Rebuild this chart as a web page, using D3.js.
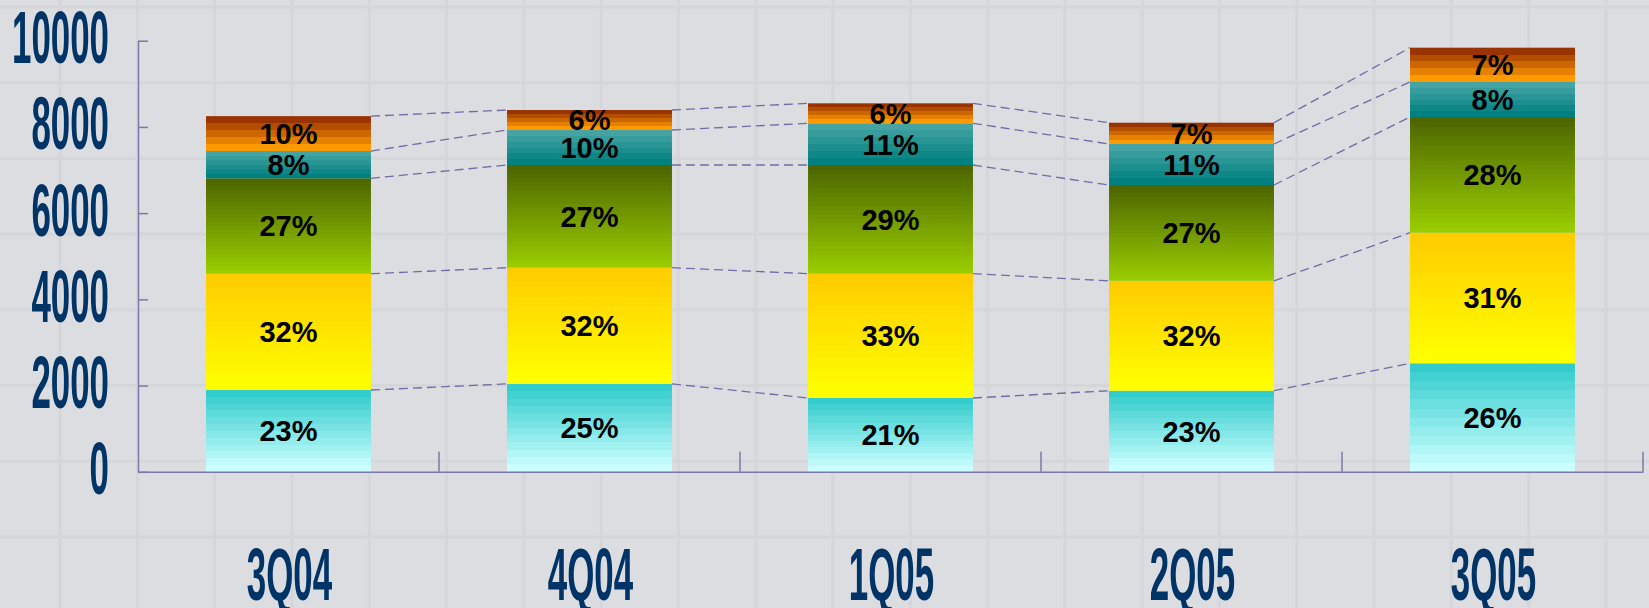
<!DOCTYPE html>
<html>
<head>
<meta charset="utf-8">
<script src="https://cdn.jsdelivr.net/npm/d3@7"></script>
<style>
  html, body { margin: 0; padding: 0; background: #dcdde0; }
  svg { display: block; }
</style>
</head>
<body>
<svg width="1649" height="608"></svg>
<script>
// the data - one array per stacked series, bottom to top
var quarters = ['3Q04', '4Q04', '1Q05', '2Q05', '3Q05'];
var seriesA = [1897, 2039, 1712, 1881, 2517];
var seriesB = [2698, 2695, 2884, 2549, 3029];
var seriesC = [2213, 2383, 2521, 2223, 2684];
var seriesD = [633, 811, 967, 951, 812];
var seriesE = [809, 464, 464, 494, 796];
// share labels as printed on the chart
var pctA = ['23%', '25%', '21%', '23%', '26%'];
var pctB = ['32%', '32%', '33%', '32%', '31%'];
var pctC = ['27%', '27%', '29%', '27%', '28%'];
var pctD = ['8%', '10%', '11%', '11%', '8%'];
var pctE = ['10%', '6%', '6%', '7%', '7%'];
var yTicks = [0, 2000, 4000, 6000, 8000, 10000];

var keys = ['a', 'b', 'c', 'd', 'e'];
var labels = { a: pctA, b: pctB, c: pctC, d: pctD, e: pctE };
// gradient per series: top colour, bottom colour, number of bands
var fills = {
  a: ['#33cccc', '#ccffff', 12],
  b: ['#ffcc00', '#ffff00', 24],
  c: ['#4d6600', '#99cc00', 24],
  d: ['#45a3a3', '#008080', 6],
  e: ['#993300', '#ff9900', 5]
};

var table = quarters.map(function (q, i) {
  return { q: q, i: i, a: seriesA[i], b: seriesB[i], c: seriesC[i], d: seriesD[i], e: seriesE[i] };
});

var svg = d3.select('svg'),
  width = 1649,
  height = 608;

// plot box (note: "top" is taken by window.top, so use other names)
var plotLeft = 138, plotRight = 1643, plotBottom = 471.8, plotTop = 40.7;

var x = d3.scaleBand().domain(quarters).range([plotLeft, plotRight]);
var xBar = d3.scaleBand().domain(quarters).range([plotLeft, plotRight])
  .paddingInner(0.452).paddingOuter(0.226);
var y = d3.scaleLinear().domain([0, 10000]).range([plotBottom, plotTop]);

var stacked = d3.stack().keys(keys)(table);

//////////// BACKGROUND ////////////

svg.append('rect').attr('width', width).attr('height', height).attr('fill', '#dcdde0');

var tex = svg.append('g').attr('stroke', '#d5d6da').attr('stroke-width', 3);
tex.selectAll('line.v')
  .data(d3.range(0, 22))
  .enter().append('line')
  .attr('x1', function (k) { return 60 + 77.3 * k; })
  .attr('x2', function (k) { return 60 + 77.3 * k; })
  .attr('y1', 0).attr('y2', height);
tex.selectAll('line.h')
  .data(d3.range(0, 9))
  .enter().append('line')
  .attr('y1', function (k) { return 7 + 75.7 * k; })
  .attr('y2', function (k) { return 7 + 75.7 * k; })
  .attr('x1', 0).attr('x2', width);

//////////// GRADIENTS ////////////

var defs = svg.append('defs');
keys.forEach(function (k) {
  var f = fills[k], n = f[2];
  var interp = d3.interpolateRgb(f[0], f[1]);
  var grad = defs.append('linearGradient')
    .attr('id', 'grad-' + k)
    .attr('x1', 0).attr('y1', 0).attr('x2', 0).attr('y2', 1);
  d3.range(n).forEach(function (s) {
    var c = interp(n > 1 ? s / (n - 1) : 0);
    grad.append('stop').attr('offset', s / n).attr('stop-color', c);
    grad.append('stop').attr('offset', (s + 1) / n).attr('stop-color', c);
  });
});

//////////// CONNECTORS ////////////

var conn = svg.append('g')
  .attr('fill', 'none')
  .attr('stroke', '#6f6ca6')
  .attr('stroke-width', 1.3)
  .attr('stroke-dasharray', '9,5');

stacked.forEach(function (layer) {
  conn.selectAll(null)
    .data(layer.slice(0, -1))
    .enter().append('line')
    .attr('x1', function (d) { return xBar(d.data.q) + xBar.bandwidth(); })
    .attr('y1', function (d) { return y(d[1]); })
    .attr('x2', function (d) { return xBar(quarters[d.data.i + 1]); })
    .attr('y2', function (d) { return y(layer[d.data.i + 1][1]); });
});

//////////// BARS ////////////

var layers = svg.append('g')
  .selectAll('g')
  .data(stacked)
  .enter().append('g')
  .attr('fill', function (d) { return 'url(#grad-' + d.key + ')'; });

layers.selectAll('rect')
  .data(function (d) { return d; })
  .enter().append('rect')
  .attr('x', function (d) { return xBar(d.data.q); })
  .attr('width', xBar.bandwidth())
  .attr('y', function (d) { return y(d[1]); })
  .attr('height', function (d) { return y(d[0]) - y(d[1]); });

//////////// AXES ////////////

var axisColor = '#7b78aa';
var bigFont = '"Liberation Sans", Arial, sans-serif';
var squeeze = 0.465; // the axis font is a very condensed bold face

var yAxis = svg.append('g')
  .attr('transform', 'translate(' + plotLeft + ',0)')
  .call(d3.axisLeft(y).tickValues(yTicks).tickFormat(d3.format('d'))
    .tickSizeInner(-10).tickSizeOuter(0).tickPadding(28));
yAxis.select('.domain').attr('stroke', axisColor).attr('stroke-width', 1.5);
yAxis.selectAll('.tick line').attr('stroke', axisColor).attr('stroke-width', 1.5);
yAxis.selectAll('.tick text')
  .attr('x', null).attr('dy', null)
  .attr('transform', 'translate(-29,22) scale(' + squeeze + ',1)')
  .attr('fill', '#003366')
  .style('font-family', bigFont)
  .style('font-weight', 'bold')
  .style('font-size', '75px');

var xAxis = svg.append('g')
  .attr('transform', 'translate(0,' + plotBottom + ')')
  .call(d3.axisBottom(x).tickSizeInner(0).tickSizeOuter(0).tickPadding(0));
xAxis.select('.domain').attr('stroke', axisColor).attr('stroke-width', 1.5);
xAxis.selectAll('.tick text')
  .attr('y', null).attr('dy', null)
  .attr('transform', 'translate(1,128) scale(' + squeeze + ',1)')
  .attr('fill', '#003366')
  .style('font-family', bigFont)
  .style('font-weight', 'bold')
  .style('font-size', '75px');

// category separators point up from the baseline
svg.append('g')
  .selectAll('line')
  .data(quarters)
  .enter().append('line')
  .attr('x1', function (d) { return x(d) + x.step(); })
  .attr('x2', function (d) { return x(d) + x.step(); })
  .attr('y1', plotBottom)
  .attr('y2', plotBottom - 20)
  .attr('stroke', axisColor)
  .attr('stroke-width', 1.5);

//////////// SHARE LABELS ////////////

stacked.forEach(function (layer) {
  svg.append('g')
    .selectAll('text')
    .data(layer)
    .enter().append('text')
    .attr('x', function (d) { return xBar(d.data.q) + xBar.bandwidth() / 2; })
    .attr('y', function (d) { return (y(d[0]) + y(d[1])) / 2; })
    .attr('dy', '0.36em')
    .attr('text-anchor', 'middle')
    .style('font-family', '"Liberation Sans", Arial, sans-serif')
    .style('font-weight', 'bold')
    .style('font-size', '29px')
    .attr('fill', '#000')
    .text(function (d) { return labels[layer.key][d.data.i]; });
});
</script>
</body>
</html>
